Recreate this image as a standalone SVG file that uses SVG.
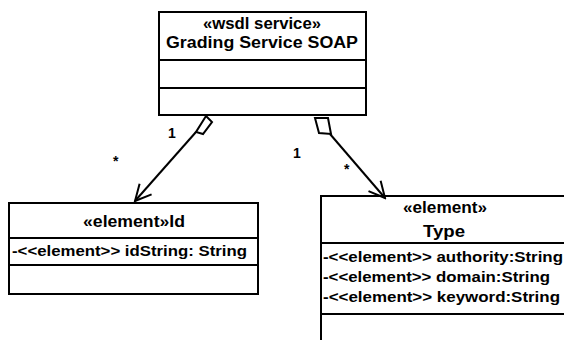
<svg xmlns="http://www.w3.org/2000/svg" width="564" height="340" viewBox="0 0 564 340">
  <defs>
    <style>
      .box { fill: #ffffff; stroke: #000000; stroke-width: 2; }
      .sep { stroke: #000000; stroke-width: 2; }
      .head { font-family: "Liberation Sans", Arial, sans-serif; font-weight: bold; font-size: 16px; fill: #000; text-anchor: middle; }
      .attr { font-family: "Liberation Sans", Arial, sans-serif; font-weight: bold; font-size: 14px; fill: #000; }
      .mult { font-family: "Liberation Sans", Arial, sans-serif; font-weight: bold; font-size: 14px; fill: #000; }
      .edge { fill: none; stroke: #000000; stroke-width: 2; }
      .diamond { fill: #ffffff; stroke: #000000; stroke-width: 2; }
    </style>
    <marker id="open-arrow" viewBox="0 0 20 20" refX="18" refY="10" markerWidth="20" markerHeight="20" markerUnits="userSpaceOnUse" orient="auto">
      <path d="M2,2 L18,10 L2,18" fill="none" stroke="#000" stroke-width="2"/>
    </marker>
  </defs>

  <!-- service class -->
  <g id="grading-service-soap">
    <rect class="box" x="159" y="12" width="207" height="103"/>
    <line class="sep" x1="159" y1="60" x2="366" y2="60"/>
    <line class="sep" x1="159" y1="88" x2="366" y2="88"/>
    <text class="head" x="262" y="29" textLength="118" lengthAdjust="spacingAndGlyphs">«wsdl service»</text>
    <text class="head" x="262" y="48" textLength="192" lengthAdjust="spacingAndGlyphs">Grading Service SOAP</text>
  </g>

  <!-- Id element -->
  <g id="element-id">
    <rect class="box" x="9" y="203" width="249" height="91"/>
    <line class="sep" x1="9" y1="238" x2="258" y2="238"/>
    <line class="sep" x1="9" y1="265" x2="258" y2="265"/>
    <text class="head" x="134" y="227" textLength="102" lengthAdjust="spacingAndGlyphs">«element»Id</text>
    <text class="attr" x="12" y="256" textLength="235" lengthAdjust="spacingAndGlyphs">-&lt;&lt;element&gt;&gt; idString: String</text>
  </g>

  <!-- Type element -->
  <g id="element-type">
    <rect class="box" x="321" y="196" width="250" height="160"/>
    <line class="sep" x1="321" y1="243" x2="571" y2="243"/>
    <line class="sep" x1="321" y1="314" x2="571" y2="314"/>
    <text class="head" x="445" y="213" textLength="84" lengthAdjust="spacingAndGlyphs">«element»</text>
    <text class="head" x="444" y="237" textLength="42" lengthAdjust="spacingAndGlyphs">Type</text>
    <text class="attr" x="323" y="262" textLength="240" lengthAdjust="spacingAndGlyphs">-&lt;&lt;element&gt;&gt; authority:String</text>
    <text class="attr" x="323" y="282" textLength="227" lengthAdjust="spacingAndGlyphs">-&lt;&lt;element&gt;&gt; domain:String</text>
    <text class="attr" x="323" y="302" textLength="237" lengthAdjust="spacingAndGlyphs">-&lt;&lt;element&gt;&gt; keyword:String</text>
  </g>

  <!-- aggregations -->
  <g id="connectors">
    <line class="edge" x1="196" y1="132" x2="135" y2="201" marker-end="url(#open-arrow)"/>
    <polygon class="diamond" points="206,116 212,122 203,134 196,132"/>
    <line class="edge" x1="330" y1="134" x2="385" y2="198" marker-end="url(#open-arrow)"/>
    <polygon class="diamond" points="315,118 328,118 331,134 319,133"/>
    <text class="mult" x="168" y="138">1</text>
    <text class="mult" x="113" y="166">*</text>
    <text class="mult" x="293" y="158">1</text>
    <text class="mult" x="344" y="174">*</text>
  </g>
</svg>
